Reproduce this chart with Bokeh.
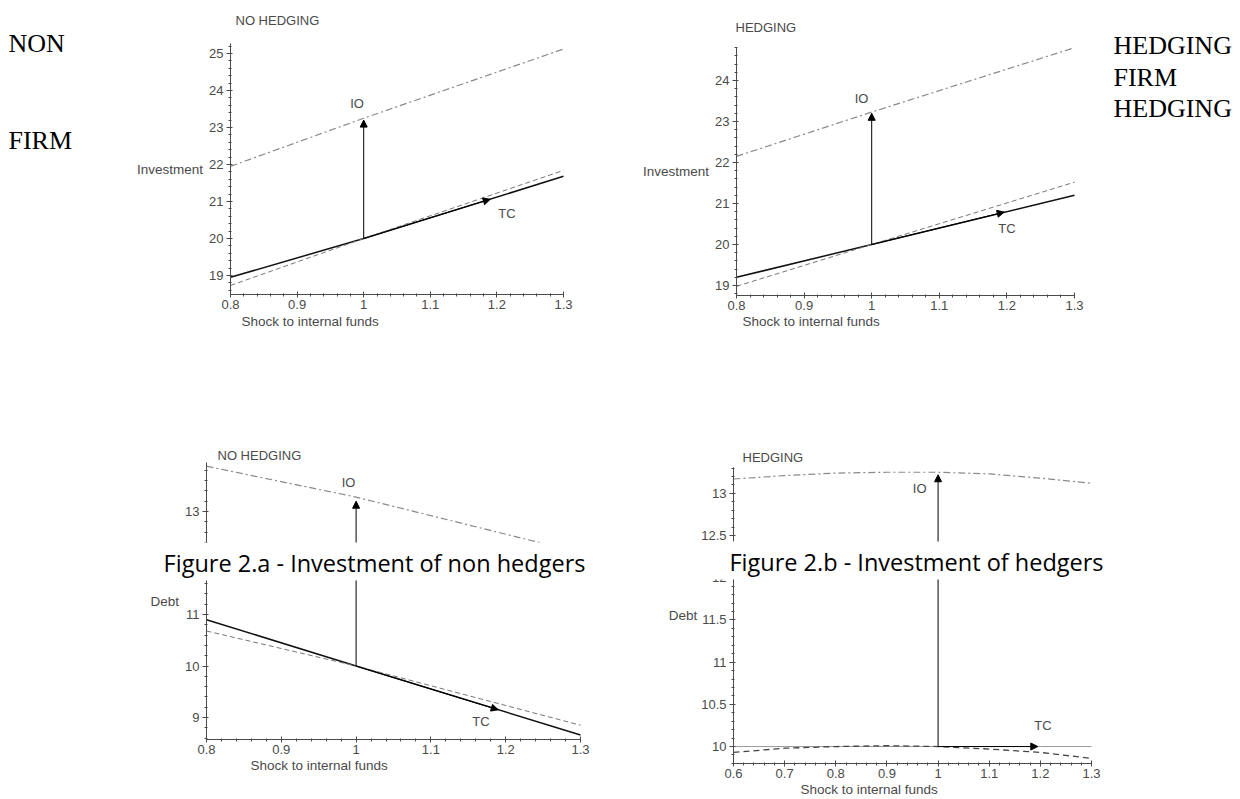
import numpy as np
from bokeh.plotting import figure
from bokeh.layouts import row, column
from bokeh.models import (Label, Arrow, NormalHead, FixedTicker, LinearAxis,
                          CustomJSTickFormatter, ColumnDataSource, Range1d)
from bokeh.core.properties import value
from bokeh.embed import file_html
from bokeh.resources import INLINE

# ---------------- data ----------------
shock3 = [0.8, 1.0, 1.3]
shock8 = [0.6, 0.7, 0.8, 0.9, 1.0, 1.1, 1.2, 1.3]

inv_io_nohedge = [21.95, 23.25, 25.12]
inv_tc_nohedge = [18.95, 20.0, 21.68]
inv_alt_nohedge = [18.73, 20.0, 21.84]

inv_io_hedge = [22.15, 23.23, 24.8]
inv_tc_hedge = [19.2, 20.0, 21.2]
inv_alt_hedge = [18.98, 20.0, 21.52]

debt_io_nohedge = [13.88, 13.28, 12.2]
debt_tc_nohedge = [10.9, 10.0, 8.66]
debt_alt_nohedge = [10.68, 10.0, 8.85]

debt_io_hedge = [13.17, 13.21, 13.24, 13.25, 13.25, 13.23, 13.18, 13.12]
debt_tc_hedge = [10.0, 10.0, 10.0, 10.0, 10.0, 10.0, 10.0, 10.0]
debt_alt_hedge = [9.93, 9.98, 10.0, 10.01, 10.0, 9.97, 9.93, 9.86]

# arrows (start point, IO end, TC end)
arrow_start = {"tl": (1.0, 20.0), "tr": (1.0, 20.0), "bl": (1.0, 10.0), "br": (1.0, 10.0)}
arrow_io_end = {"tl": (1.0, 23.2), "tr": (1.0, 23.2), "bl": (1.0, 13.2), "br": (1.0, 13.22)}
arrow_tc_end = {"tl": (1.19, 21.06), "tr": (1.196, 20.79), "bl": (1.19, 9.15), "br": (1.195, 10.0)}

# IO / TC labels
label_text = ["IO", "TC"]
label_x = {"tl": [0.99, 1.215], "tr": [0.985, 1.2], "bl": [0.99, 1.167], "br": [0.964, 1.205]}
label_y = {"tl": [23.65, 20.67], "tr": [23.55, 20.4], "bl": [13.57, 8.93], "br": [13.06, 10.25]}

# axis extents (data) and ticks
x_ext = {"tl": (0.8, 1.3), "tr": (0.8, 1.3), "bl": (0.8, 1.3), "br": (0.6, 1.3)}
y_ext = {"tl": (18.486, 25.27), "tr": (18.756, 24.805), "bl": (8.573, 13.952), "br": (9.799, 13.306)}
x_ticks_main = [0.8, 0.9, 1.0, 1.1, 1.2, 1.3]
x_ticks_wide = [0.6, 0.7, 0.8, 0.9, 1.0, 1.1, 1.2, 1.3]
y_ticks_inv_nh = [19, 20, 21, 22, 23, 24, 25]
y_ticks_inv_h = [19, 20, 21, 22, 23, 24]
y_ticks_debt_nh = [9, 10, 11, 12, 13]
y_ticks_debt_h = [10, 10.5, 11, 11.5, 12, 12.5, 13]

titles = {"tl": "NO HEDGING", "tr": "HEDGING", "bl": "NO HEDGING", "br": "HEDGING"}
y_labels = {"tl": "Investment", "tr": "Investment", "bl": "Debt", "br": "Debt"}
x_label = "Shock to internal funds"
caption_a = "Figure 2.a - Investment of non hedgers"
caption_b = "Figure 2.b - Investment of hedgers"
side_left = ["NON", "FIRM"]
side_right = ["HEDGING", "FIRM", "HEDGING"]

# ---------------- layout (page pixels) ----------------
canvas = {"tl": (0, 0, 620, 420), "tr": (620, 0, 620, 420),
          "bl": (0, 420, 620, 378), "br": (620, 420, 620, 378)}
# plot box: left, right, top, bottom in page px
box = {"tl": (230, 563, 43, 294), "tr": (736, 1074, 47, 295),
       "bl": (206, 580, 462, 739), "br": (733, 1091, 467, 763)}
title_at = {"tl": (235, 20), "tr": (735, 27), "bl": (217, 455), "br": (742, 457)}
xlabel_at = {"tl": (241, 321), "tr": (742, 321), "bl": (250, 765), "br": (800, 789)}
ylabel_standoff = {"tl": 3, "tr": 3, "bl": 3, "br": 1}

SANS = "Liberation Sans"
SERIF = "Liberation Serif"
GREY = "#4a4a4a"


def minor(ticks, ext, n=5):
    step = (ticks[1] - ticks[0]) / n
    vals = np.arange(ticks[0], ext[1] + 1e-9, step)
    lower = np.arange(ticks[0] - step, ext[0] - 1e-9, -step)
    return [float(v) for v in np.concatenate([lower, vals])]


def screen(key, px, py):
    ox, oy, w, h = canvas[key]
    return px - ox, oy + h - py


def put(p, key, text, px, py, font=SANS, size="13px", color=GREY, align="left", **kw):
    sx, sy = screen(key, px, py)
    lab = Label(x=sx, y=sy, x_units="screen", y_units="screen", text=text,
                text_font=font, text_font_size=size, text_color=color,
                text_align=align, text_baseline="middle", **kw)
    p.add_layout(lab)
    return lab


def panel(key, xt, yt, series_x, io, tc, alt, tc_style=None, alt_style=None):
    ox, oy, w, h = canvas[key]
    left, right, top, bottom = box[key]
    x0, x1 = x_ext[key]
    y0, y1 = y_ext[key]
    kx = (right - left) / (x1 - x0)
    ky = (bottom - top) / (y1 - y0)
    xs = x0 - (left - ox) / kx
    ys = y0 - (oy + h - bottom) / ky
    p = figure(width=w, height=h, x_range=Range1d(xs, xs + w / kx),
               y_range=Range1d(ys, ys + h / ky),
               output_backend="svg", toolbar_location=None,
               x_axis_location=None, y_axis_location=None, min_border=0)
    p.min_border_left = p.min_border_right = p.min_border_top = p.min_border_bottom = 0
    p.outline_line_color = None
    p.grid.visible = False
    p.background_fill_color = "white"
    p.border_fill_color = "white"

    fmt = CustomJSTickFormatter(code="return String(Math.round(tick*10)/10)")
    xa = LinearAxis(fixed_location=y0, bounds=(x0, x1),
                    ticker=FixedTicker(ticks=xt, minor_ticks=minor(xt, (x0, x1))),
                    formatter=fmt)
    ya = LinearAxis(fixed_location=x0, bounds=(y0, y1),
                    ticker=FixedTicker(ticks=yt, minor_ticks=minor(yt, (y0, y1))),
                    formatter=fmt)
    for ax in (xa, ya):
        ax.axis_line_color = GREY
        ax.major_tick_line_color = GREY
        ax.minor_tick_line_color = GREY
        ax.major_label_text_font = SANS
        ax.major_label_text_font_size = "13px"
        ax.major_label_text_color = GREY
    xa.major_tick_in = 3
    xa.major_tick_out = 3
    xa.minor_tick_in = 1
    xa.minor_tick_out = 2
    xa.major_label_standoff = 2
    ya.major_tick_in = 2
    ya.major_tick_out = 4
    ya.minor_tick_in = 1
    ya.minor_tick_out = 2
    ya.major_label_standoff = 3
    ya.axis_label = y_labels[key]
    ya.axis_label_orientation = "horizontal"
    ya.axis_label_standoff = ylabel_standoff[key]
    ya.axis_label_text_font = SANS
    ya.axis_label_text_font_size = "13.5px"
    ya.axis_label_text_font_style = "normal"
    ya.axis_label_text_color = GREY
    p.add_layout(xa, "below")
    p.add_layout(ya, "left")

    src = ColumnDataSource(dict(x=series_x, io=io, tc=tc, alt=alt))
    p.line("x", "io", source=src, line_color="#8a8a8a", line_width=1.2, line_dash="7 3 2 3")
    p.line("x", "tc", source=src,
           **(tc_style or dict(line_color="#111111", line_width=1.5)))
    p.line("x", "alt", source=src,
           **(alt_style or dict(line_color="#777777", line_width=1.0, line_dash="5 3")))

    head = dict(size=7, fill_color="black", line_color="black")
    sx0, sy0 = arrow_start[key]
    for end in (arrow_io_end[key], arrow_tc_end[key]):
        p.add_layout(Arrow(end=NormalHead(**head), x_start=sx0, y_start=sy0,
                           x_end=end[0], y_end=end[1], line_color="black", line_width=1))

    p.text(x=label_x[key], y=label_y[key], text=label_text,
           text_font=value(SANS), text_font_size="13px", text_color=GREY,
           text_align="center", text_baseline="middle")

    put(p, key, titles[key], *title_at[key], size="13px")
    put(p, key, x_label, *xlabel_at[key], size="13.5px")
    return p


tl = panel("tl", x_ticks_main, y_ticks_inv_nh, shock3, inv_io_nohedge, inv_tc_nohedge, inv_alt_nohedge)
tr = panel("tr", x_ticks_main, y_ticks_inv_h, shock3, inv_io_hedge, inv_tc_hedge, inv_alt_hedge)
bl = panel("bl", x_ticks_main, y_ticks_debt_nh, shock3, debt_io_nohedge, debt_tc_nohedge, debt_alt_nohedge)
br = panel("br", x_ticks_wide, y_ticks_debt_h, shock8, debt_io_hedge, debt_tc_hedge, debt_alt_hedge,
           tc_style=dict(line_color="#9a9a9a", line_width=1.0),
           alt_style=dict(line_color="#444444", line_width=1.3, line_dash="6 4"))

# side texts in serif
for txt, py in zip(side_left, (43, 140)):
    put(tl, "tl", txt, 8, py, font=SERIF, size="26px", color="black")
for txt, py in zip(side_right, (45, 77, 108)):
    put(tr, "tr", txt, 1113, py, font=SERIF, size="26px", color="black")

# captions, with a white box covering the plots behind them
# (the anchor is the centre of the padded box)
pad_a = dict(left=14, right=16, top=4, bottom=2)
pad_b = dict(left=34, right=10, top=4, bottom=2)
put(bl, "bl", caption_a, 374 - (pad_a["left"] - pad_a["right"]) / 2, 561,
    font="Open Sans", size="23.5px", color="black",
    align="center", background_fill_color="white", background_fill_alpha=1.0,
    padding=pad_a, level="overlay")
put(br, "br", caption_b, 916 - (pad_b["left"] - pad_b["right"]) / 2, 560,
    font="Open Sans", size="23.5px", color="black",
    align="center", background_fill_color="white", background_fill_alpha=1.0,
    padding=pad_b, level="overlay")

layout = column(row(tl, tr), row(bl, br))
open("out.html", "w").write(file_html(layout, INLINE))
